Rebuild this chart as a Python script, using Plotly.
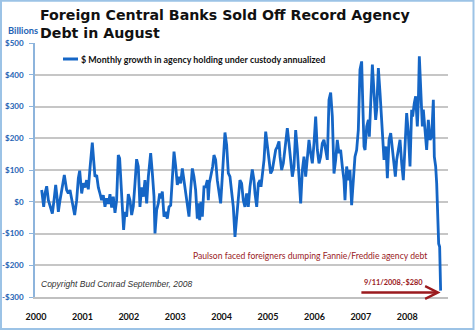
import plotly.graph_objects as go

# Weekly custody data, sampled: decimal year and $ billions (annualized monthly growth)
years = [
    2000.122, 2000.143, 2000.165, 2000.194, 2000.230, 2000.266, 2000.302, 2000.352, 2000.388, 2000.424,
    2000.452, 2000.481, 2000.517, 2000.553, 2000.610, 2000.660, 2000.696, 2000.732, 2000.768, 2000.804,
    2000.833, 2000.876, 2000.912, 2000.941, 2000.984, 2001.019, 2001.055, 2001.091, 2001.127, 2001.163,
    2001.213, 2001.242, 2001.271, 2001.307, 2001.343, 2001.378, 2001.414, 2001.450, 2001.486, 2001.522,
    2001.558, 2001.594, 2001.630, 2001.666, 2001.702, 2001.737, 2001.773, 2001.802, 2001.831, 2001.860,
    2001.888, 2001.917, 2001.953, 2001.989, 2002.025, 2002.061, 2002.097, 2002.133, 2002.168, 2002.204,
    2002.240, 2002.276, 2002.312, 2002.348, 2002.385, 2002.421, 2002.471, 2002.507, 2002.543, 2002.564,
    2002.600, 2002.636, 2002.665, 2002.694, 2002.722, 2002.758, 2002.794, 2002.830, 2002.866, 2002.902,
    2002.938, 2002.974, 2003.010, 2003.045, 2003.081, 2003.117, 2003.153, 2003.189, 2003.225, 2003.261,
    2003.297, 2003.333, 2003.369, 2003.404, 2003.440, 2003.476, 2003.498, 2003.527, 2003.555, 2003.584,
    2003.620, 2003.656, 2003.692, 2003.713, 2003.735, 2003.771, 2003.807, 2003.835, 2003.871, 2003.907,
    2003.943, 2003.979, 2004.015, 2004.051, 2004.072, 2004.108, 2004.144, 2004.180, 2004.216, 2004.252,
    2004.288, 2004.323, 2004.359, 2004.395, 2004.431, 2004.467, 2004.503, 2004.539, 2004.575, 2004.611,
    2004.661, 2004.697, 2004.720, 2004.756, 2004.792, 2004.828, 2004.849, 2004.878, 2004.914, 2004.950,
    2004.986, 2005.022, 2005.057, 2005.093, 2005.129, 2005.165, 2005.201, 2005.237, 2005.259, 2005.294,
    2005.330, 2005.366, 2005.416, 2005.452, 2005.488, 2005.524, 2005.560, 2005.596, 2005.632, 2005.668,
    2005.704, 2005.740, 2005.775, 2005.811, 2005.847, 2005.883, 2005.919, 2005.955, 2005.991, 2006.027,
    2006.063, 2006.099, 2006.134, 2006.170, 2006.206, 2006.242, 2006.278, 2006.314, 2006.350, 2006.386,
    2006.422, 2006.458, 2006.493, 2006.529, 2006.565, 2006.601, 2006.637, 2006.659, 2006.695, 2006.730,
    2006.766, 2006.802, 2006.838, 2006.874, 2006.910, 2006.946, 2006.982, 2007.018, 2007.040, 2007.069,
    2007.091, 2007.127, 2007.163, 2007.184, 2007.213, 2007.249, 2007.285, 2007.320, 2007.342, 2007.378,
    2007.414, 2007.450, 2007.471, 2007.500, 2007.522, 2007.543, 2007.572, 2007.608, 2007.644, 2007.679,
    2007.715, 2007.744, 2007.773, 2007.809, 2007.845, 2007.881, 2007.916, 2007.952, 2007.988, 2008.024,
    2008.060, 2008.096, 2008.117, 2008.153, 2008.182, 2008.218, 2008.239, 2008.261, 2008.297, 2008.326,
    2008.347, 2008.383, 2008.419, 2008.455, 2008.491, 2008.527, 2008.563, 2008.584, 2008.613, 2008.635,
    2008.656, 2008.678, 2008.699, 2008.720,
]
growth = [
    37, 16, -16, 26, 49, 5, -16, -37, 5, 53,
    16, -32, 5, 37, 84, 37, 26, 37, 11, -26,
    -42, 5, 74, 98, 26, 58, 45, 68, 39, 105,
    186, 132, 79, 84, 45, 26, 5, 21, -16, 11,
    -7, 24, -18, 16, -35, 5, 147, 137, 68, -26,
    -89, -32, -47, 24, 5, -42, -14, 58, 134, 111,
    -16, 45, 16, 68, -5, 79, 153, 90, 16, -100,
    -26, -5, 26, 11, 32, -47, -32, -53, -16, -11,
    68, 158, 111, 53, 79, 58, 105, 68, 26, -16,
    -47, 37, 105, 79, 37, -53, -5, -58, 0, -47,
    47, 47, 68, 5, 58, 84, 111, 147, 132, 68,
    26, -5, 79, 163, 218, 179, 90, 79, 21, -16,
    -111, -47, 26, 68, 58, 5, -16, 26, -16, 47,
    102, 68, 26, -16, 58, 68, 47, 79, 132, 221,
    174, 132, 89, 100, 132, 163, 174, 190, 142, 100,
    121, 163, 232, 184, 121, 79, 111, 226, 163, 58,
    -5, 100, 142, 79, 142, 195, 153, 121, 184, 268,
    163, 121, 142, 184, 195, 163, 132, 321, 344, 268,
    89, 132, 195, 153, 163, 111, 68, 5, 111, 68,
    100, -11, 58, 142, 163, 226, 416, 442, 321, 174,
    163, 237, 258, 205, 311, 432, 342, 258, 290, 421,
    342, 268, 195, 132, 163, 174, 74, 195, 216, 163,
    100, 79, 132, 163, 195, 121, 68, 174, 279, 216,
    111, 290, 268, 311, 332, 237, 311, 458, 353, 237,
    290, 216, 163, 258, 195, 205, 321, 142, 111, 58,
    -58, -132, -142, -280,
]

year_ticks = [2000, 2001, 2002, 2003, 2004, 2005, 2006, 2007, 2008]
dollar_ticks = [-300, -200, -100, 0, 100, 200, 300, 400, 500]
dollar_labels = ["-$300", "-$200", "-$100", "$0", "$100", "$200", "$300", "$400", "$500"]

series_name = "$ Monthly growth in agency holding under custody annualized"
last_label = "9/11/2008,-$280"

W, H = 475, 331
L, R, T, B = 35, 27, 43, 34
PW, PH = W - L - R, H - T - B

LINE_BLUE = "#1566C6"
TICK_BLUE = "#2464B4"
DARK_RED = "#9A1A1E"
NARROW = "Lato, Roboto, sans-serif"


def px(x):
    return (x - L) / PW


def py(y):
    return (H - B - y) / PH


fig = go.Figure()
fig.add_trace(go.Scatter(
    x=years, y=growth, mode="lines", name=series_name,
    line=dict(color=LINE_BLUE, width=2.8), showlegend=False,
))

fig.update_layout(
    width=W, height=H,
    margin=dict(l=L, r=R, t=T, b=B, autoexpand=False),
    paper_bgcolor="white", plot_bgcolor="white",
    showlegend=False,
    xaxis=dict(
        range=[1999.978, 2008.879], tickvals=year_ticks,
        ticktext=[str(y) for y in year_ticks],
        showgrid=False, zeroline=False, automargin=False,
        showline=True, linecolor="#C0C0C0", linewidth=1.5,
        ticks="", ticklabelstandoff=10,
        tickfont=dict(family=NARROW, size=9, color="#111111", weight="bold"),
    ),
    yaxis=dict(
        range=[-300, 500], tickvals=dollar_ticks, ticktext=dollar_labels,
        showgrid=True, gridcolor="#C6C6C6", gridwidth=1.5, zeroline=False,
        automargin=False,
        showline=True, linecolor="#8DB4DC", linewidth=1.5,
        ticks="outside", ticklen=4, tickcolor="#8DB4DC", tickwidth=1,
        ticklabelstandoff=4,
        tickfont=dict(family=NARROW, size=8, color=TICK_BLUE, weight="bold"),
    ),
)

# outer frame of the whole graphic
fig.add_shape(type="rect", xref="paper", yref="paper",
              x0=px(1), x1=px(473.5), y0=py(329), y1=py(0.8),
              line=dict(color="#9CC3E6", width=2), layer="below")

# legend sample line and label
fig.add_shape(type="line", xref="paper", yref="paper",
              x0=px(63), x1=px(78), y0=py(59), y1=py(59),
              line=dict(color=LINE_BLUE, width=3))

annotations = [
    dict(text="Foreign Central Banks Sold Off Record Agency<br>Debt in August",
         x=px(38), y=py(5), xanchor="left", yanchor="top", align="left",
         font=dict(family="DejaVu Sans, Verdana, sans-serif", size=14.2, color="#111111", weight="bold")),
    dict(text="Billions", x=px(6), y=py(30), xanchor="left", yanchor="middle",
         font=dict(family=NARROW, size=9.3, color=TICK_BLUE, weight="bold")),
    dict(text=series_name, x=px(79), y=py(59), xanchor="left", yanchor="middle",
         font=dict(family=NARROW, size=8.9, color="#111111", weight="bold")),
    dict(text="Paulson faced foreigners dumping Fannie/Freddie agency debt",
         x=px(429), y=py(256), xanchor="right", yanchor="middle",
         font=dict(family=NARROW, size=8.6, color=DARK_RED)),
    dict(text=last_label, x=px(425), y=py(282), xanchor="right", yanchor="middle",
         font=dict(family=NARROW, size=7.4, color=DARK_RED, weight="bold")),
    dict(text="Copyright Bud Conrad September, 2008", x=px(39), y=py(284),
         xanchor="left", yanchor="middle",
         font=dict(family="Liberation Sans, Arial, sans-serif", size=8.5, color="#333333", style="italic")),
]
for a in annotations:
    a.update(xref="paper", yref="paper", showarrow=False)
    fig.add_annotation(**a)

# arrow pointing at the final reading
fig.add_annotation(
    x=years[-1], y=-286, ax=2006.98, ay=-286, xref="x", yref="y", axref="x", ayref="y",
    text="", showarrow=True, arrowhead=5, arrowsize=1, arrowwidth=2.5, arrowcolor=DARK_RED,
)

fig.write_html("out.html")
